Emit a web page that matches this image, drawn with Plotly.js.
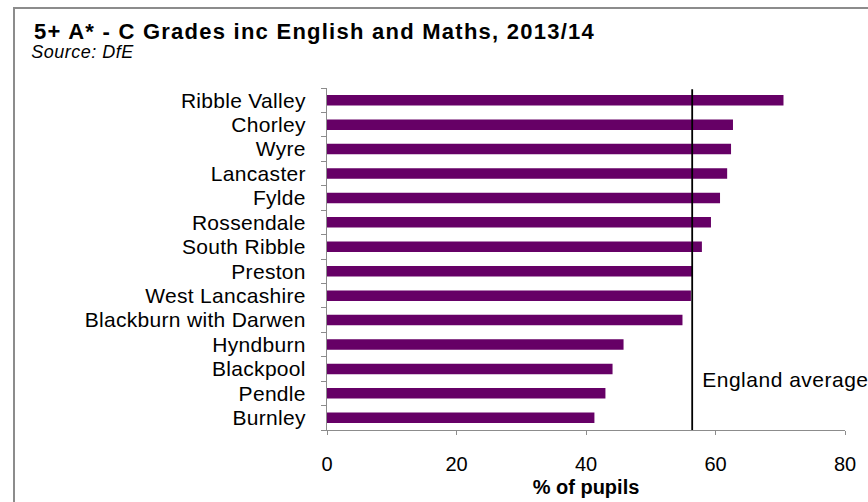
<!DOCTYPE html>
<html>
<head>
<meta charset="utf-8">
<script src="https://cdn.plot.ly/plotly-3.0.1.min.js"></script>
<style>
  html, body { margin: 0; padding: 0; background: #ffffff; }
  #wrap { position: relative; width: 868px; height: 502px; overflow: hidden; }
  #chart { position: absolute; left: 0; top: 0; width: 868px; height: 502px; }
  #frame { position: absolute; left: 13px; top: 7px; width: 900px; height: 600px;
           border-top: 2px solid #8c8c8c; border-left: 2px solid #8c8c8c; pointer-events: none; }
  #chart .gtitle { letter-spacing: 1.25px; }
  #chart .ytick text { letter-spacing: 0.3px; }
  #chart .annotation-text { letter-spacing: 0.5px; }
</style>
</head>
<body>
<div id="wrap">
  <div id="chart"></div>
  <div id="frame"></div>
</div>
<script>
// Data (top to bottom as shown in the chart)
const categories = ['Ribble Valley', 'Chorley', 'Wyre', 'Lancaster', 'Fylde', 'Rossendale',
  'South Ribble', 'Preston', 'West Lancashire', 'Blackburn with Darwen', 'Hyndburn',
  'Blackpool', 'Pendle', 'Burnley'];
const values = [70.5, 62.7, 62.4, 61.8, 60.7, 59.3, 57.9, 56.5, 56.2, 54.9, 45.8, 44.1, 43.0, 41.3];
const englandAverage = 56.4;
const englandLabel = 'England average';
const xTickValues = [0, 20, 40, 60, 80];
const titleText = '5+ A* - C Grades inc English and Maths, 2013/14';
const sourceText = 'Source: DfE';
const xAxisTitle = '% of pupils';

const W = 868, H = 502;
const M = { l: 327, r: 23, t: 88, b: 72 };
const plotW = W - M.l - M.r, plotH = H - M.t - M.b;
const FONT = 'Liberation Sans, Arial, sans-serif';

const trace = {
  type: 'bar',
  orientation: 'h',
  y: categories,
  x: values,
  marker: { color: '#660066', line: { width: 0 } },
  hoverinfo: 'x+y'
};

const layout = {
  width: W, height: H,
  margin: M,
  paper_bgcolor: 'rgba(0,0,0,0)',
  plot_bgcolor: 'rgba(0,0,0,0)',
  showlegend: false,
  bargap: 0.57,
  font: { family: FONT, color: '#000000', size: 20 },
  title: {
    text: '<b>' + titleText + '</b>',
    xref: 'container', yref: 'container',
    x: 34 / W, xanchor: 'left',
    y: 1 - 31 / H, yanchor: 'middle',
    font: { family: FONT, size: 22, color: '#000000' }
  },
  xaxis: {
    range: [0, 80],
    tickmode: 'array',
    tickvals: xTickValues,
    ticktext: xTickValues.map(String),
    showgrid: false,
    zeroline: false,
    showline: true,
    linecolor: '#8c8c8c',
    linewidth: 1,
    ticks: 'outside',
    ticklen: 4,
    tickcolor: '#8c8c8c',
    tickwidth: 1,
    ticklabelstandoff: 12,
    tickfont: { family: FONT, size: 20, color: '#000000' },
    title: { text: '<b>' + xAxisTitle + '</b>', standoff: 5,
             font: { family: FONT, size: 20, color: '#000000' } },
    fixedrange: true
  },
  yaxis: {
    type: 'category',
    autorange: 'reversed',
    tickmode: 'array',
    tickvals: categories,
    ticktext: categories,
    showgrid: false,
    zeroline: false,
    showline: true,
    linecolor: '#8c8c8c',
    linewidth: 1,
    ticks: 'outside',
    tickson: 'boundaries',
    ticklen: 5,
    tickcolor: '#8c8c8c',
    tickwidth: 1,
    ticklabelstandoff: 16,
    tickfont: { family: FONT, size: 21, color: '#000000' },
    fixedrange: true
  },
  shapes: [{
    type: 'line', xref: 'x', yref: 'paper',
    x0: englandAverage, x1: englandAverage, y0: 0, y1: 0.996,
    line: { color: '#000000', width: 1.8 }
  }],
  annotations: [
    {
      text: '<i>' + sourceText + '</i>',
      xref: 'paper', yref: 'paper',
      x: (32 - M.l) / plotW, xanchor: 'left',
      y: (H - M.b - 52) / plotH, yanchor: 'middle',
      showarrow: false,
      font: { family: FONT, size: 18, color: '#000000' }
    },
    {
      text: englandLabel,
      xref: 'x', yref: 'y',
      x: englandAverage + 1.8, xanchor: 'left',
      y: 11.45, yanchor: 'middle',
      showarrow: false,
      font: { family: FONT, size: 21, color: '#000000' }
    }
  ]
};

Plotly.newPlot('chart', [trace], layout, { displayModeBar: false, staticPlot: true });
</script>
</body>
</html>
